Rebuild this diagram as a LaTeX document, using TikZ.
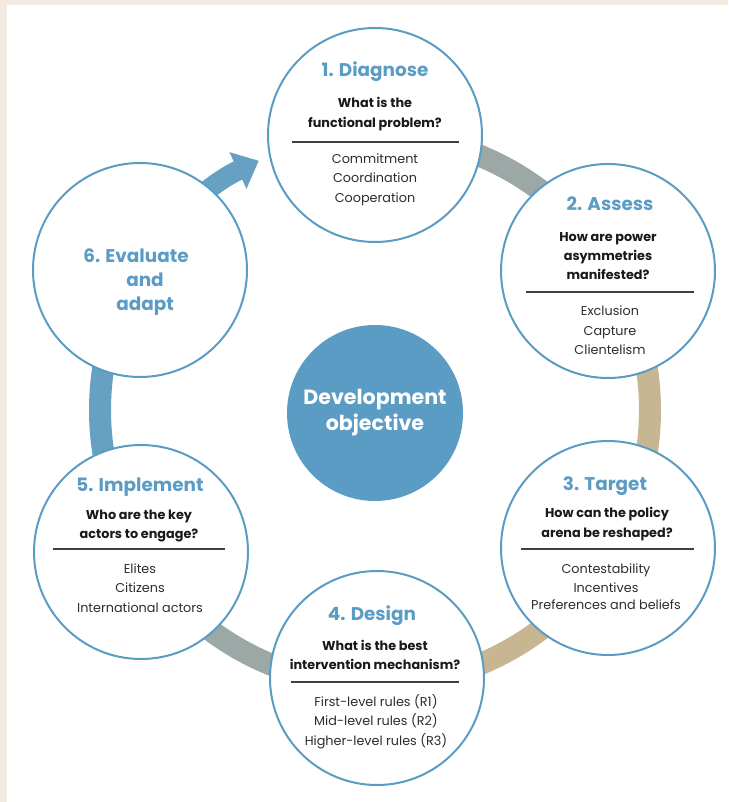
\documentclass[tikz,border=0pt]{standalone}
\usepackage{fontspec}
\setmainfont{Poppins}
\usetikzlibrary{arrows.meta}
\definecolor{bg}{RGB}{243,235,226}
\definecolor{cblue}{RGB}{91,156,196}
\definecolor{bandgrey}{RGB}{155,168,166}
\definecolor{bandtan}{RGB}{200,181,145}
\definecolor{bandblue}{RGB}{102,160,195}
\definecolor{txt}{RGB}{25,25,25}
\definecolor{itxt}{RGB}{45,45,45}
\begin{document}
\begin{tikzpicture}[x=1pt,y=1pt,
  circ/.style={circle, draw=cblue, line width=2pt, fill=white, minimum size=214pt, inner sep=0pt},
  ttl/.style={font=\bfseries\fontsize{18.4}{21}\selectfont, text=cblue, anchor=base, inner sep=0pt},
  qst/.style={font=\bfseries\fontsize{12.8}{15}\selectfont, text=txt, anchor=base, inner sep=0pt},
  itm/.style={font=\fontsize{12.8}{15}\selectfont, text=itxt, anchor=base, inner sep=0pt},
  band/.style={line width=22pt},
  rulel/.style={draw=black!75, line width=1.3pt}]
\useasboundingbox (0,0) rectangle (728,-802);
\fill[bg] (0,0) rectangle (728,-802);
\fill[white] (7,-5) rectangle (728,-802);
\coordinate (ctr) at (375,-410);
% ring
\draw[band,bandgrey] ([shift={(90:275pt)}]ctr) arc[start angle=90,end angle=30,radius=275pt];
\draw[band,bandtan] ([shift={(30:275pt)}]ctr) arc[start angle=30,end angle=-30,radius=275pt];
\draw[band,bandtan] ([shift={(-30:275pt)}]ctr) arc[start angle=-30,end angle=-90,radius=275pt];
\draw[band,bandgrey] ([shift={(-90:275pt)}]ctr) arc[start angle=-90,end angle=-150,radius=275pt];
\draw[band,bandblue] ([shift={(-150:275pt)}]ctr) arc[start angle=-150,end angle=-210,radius=275pt];
\draw[line width=20pt,bandblue,-{Triangle[length=23pt,width=39pt]}] ([shift={(150:275pt)}]ctr) arc[start angle=150,end angle=115,radius=275pt];
% circles
\node[circ] (c1) at (375,-135) {};
\node[circ] (c2) at (608,-271) {};
\node[circ] (c3) at (608,-548) {};
\node[circ] (c4) at (377,-678) {};
\node[circ] (c5) at (141,-552) {};
\node[circ] (c6) at (140,-270) {};
\node[circle, fill=cblue, minimum size=176pt, inner sep=0pt, align=center, text=white,
  font=\bfseries\fontsize{20.6}{26}\selectfont] (obj) at (375,-413) {Development\\objective};
% circle 1
\node[ttl] (c1t) at (375,-77) {1. Diagnose};
\node[qst] (c1q1) at (375,-108) {What is the};
\node[qst] (c1q2) at (375,-128) {functional problem?};
\draw[rulel] (292,-142) -- (459,-142);
\node[itm] (c1i1) at (375,-164) {Commitment};
\node[itm] (c1i2) at (375,-183) {Coordination};
\node[itm] (c1i3) at (375,-203) {Cooperation};
% circle 2
\node[ttl] (c2t) at (610,-211) {2. Assess};
\node[qst] (c2q1) at (608,-241) {How are power};
\node[qst] (c2q2) at (608,-260) {asymmetries};
\node[qst] (c2q3) at (608,-279) {manifested?};
\draw[rulel] (526,-292) -- (694,-292);
\node[itm] (c2i1) at (610,-315) {Exclusion};
\node[itm] (c2i2) at (610,-335) {Capture};
\node[itm] (c2i3) at (610,-354) {Clientelism};
% circle 3
\node[ttl] (c3t) at (605,-490) {3. Target};
\node[qst] (c3q1) at (607,-517) {How can the policy};
\node[qst] (c3q2) at (607,-537) {arena be reshaped?};
\draw[rulel] (521,-549) -- (694,-549);
\node[itm] (c3i1) at (606,-573) {Contestability};
\node[itm] (c3i2) at (606,-592) {Incentives};
\node[itm] (c3i3) at (606,-609) {Preferences and beliefs};
% circle 4
\node[ttl] (c4t) at (372,-620) {4. Design};
\node[qst] (c4q1) at (375,-650) {What is the best};
\node[qst] (c4q2) at (375,-669) {intervention mechanism?};
\draw[rulel] (291,-682) -- (459,-682);
\node[itm] (c4i1) at (376,-706) {First-level rules (R1)};
\node[itm] (c4i2) at (376,-725) {Mid-level rules (R2)};
\node[itm] (c4i3) at (376,-745) {Higher-level rules (R3)};
% circle 5
\node[ttl] (c5t) at (140,-491) {5. Implement};
\node[qst] (c5q1) at (139,-519) {Who are the key};
\node[qst] (c5q2) at (139,-538) {actors to engage?};
\draw[rulel] (53,-549) -- (225,-549);
\node[itm] (c5i1) at (140,-573) {Elites};
\node[itm] (c5i2) at (140,-592) {Citizens};
\node[itm] (c5i3) at (140,-612) {International actors};
% circle 6
\node[ttl] (c6t1) at (136,-262) {6. Evaluate};
\node[ttl] (c6t2) at (145,-286) {and};
\node[ttl] (c6t3) at (145,-310) {adapt};
\end{tikzpicture}
\end{document}
